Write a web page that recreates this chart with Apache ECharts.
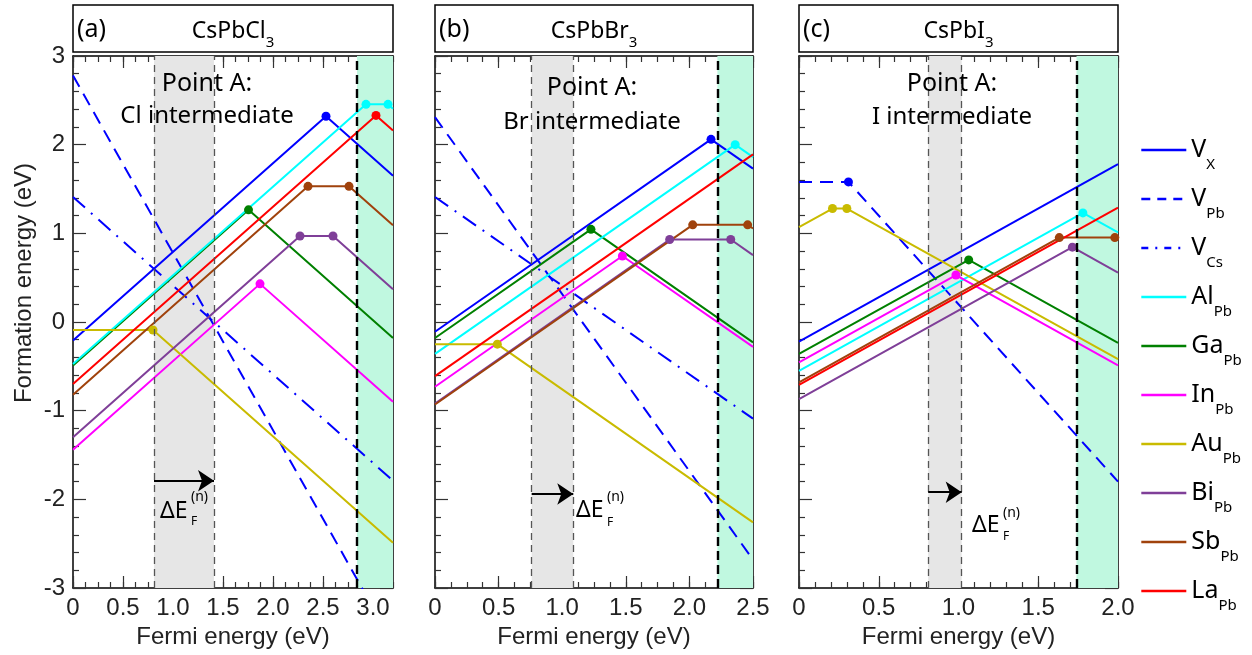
<!DOCTYPE html>
<html><head><meta charset="utf-8">
<script src="https://cdn.jsdelivr.net/npm/echarts@6/dist/echarts.min.js"></script>
<style>html,body{margin:0;padding:0;background:#fff}#c{width:1252px;height:655px}</style>
</head><body><div id="c"></div><script>
// ---------- data ----------
const panelLabels = ['(a)', '(b)', '(c)'];
const panelFormulas = ['CsPbCl', 'CsPbBr', 'CsPbI'];
const halideNames = ['Cl', 'Br', 'I'];
const xMaxes = [3.2, 2.5, 2.0];
const xTicksA = [0, 0.5, 1.0, 1.5, 2.0, 2.5, 3.0];
const xTicksB = [0, 0.5, 1.0, 1.5, 2.0, 2.5];
const xTicksC = [0, 0.5, 1.0, 1.5, 2.0];
const yTicks = [-3, -2, -1, 0, 1, 2, 3];
const grayBands = [[0.81, 1.41], [0.76, 1.087], [0.81, 1.02]];
const greenBandStarts = [2.84, 2.22, 1.74];
const arrowYs = [-1.79, -1.94, -1.92];
const legendNames = ['V_X', 'V_Pb', 'V_Cs', 'Al_Pb', 'Ga_Pb', 'In_Pb', 'Au_Pb', 'Bi_Pb', 'Sb_Pb', 'La_Pb'];

// (a) CsPbCl3
const a_VX = [[0, -0.21], [2.53, 2.32], [3.2, 1.65]];
const a_VPb = [[0, 2.78], [2.9, -3.02]];
const a_VCs = [[0, 1.41], [3.2, -1.79]];
const a_Al = [[0, -0.475], [2.93, 2.455], [3.15, 2.455], [3.2, 2.405]];
const a_Ga = [[0, -0.49], [1.755, 1.265], [3.2, -0.18]];
const a_In = [[0, -1.44], [1.87, 0.43], [3.2, -0.90]];
const a_Au = [[0, -0.09], [0.80, -0.09], [3.2, -2.49]];
const a_Bi = [[0, -1.30], [2.27, 0.97], [2.60, 0.97], [3.2, 0.37]];
const a_Sb = [[0, -0.82], [2.35, 1.53], [2.76, 1.53], [3.2, 1.09]];
const a_La = [[0, -0.70], [3.03, 2.33], [3.2, 2.16]];

// (b) CsPbBr3
const b_VX = [[0, -0.11], [2.17, 2.06], [2.5, 1.73]];
const b_VPb = [[0, 2.31], [2.5, -2.68]];
const b_VCs = [[0, 1.41], [2.5, -1.09]];
const b_Al = [[0, -0.36], [2.36, 2.00], [2.5, 1.86]];
const b_Ga = [[0, -0.18], [1.226, 1.045], [2.5, -0.23]];
const b_In = [[0, -0.73], [1.473, 0.744], [2.5, -0.28]];
const b_Au = [[0, -0.25], [0.49, -0.25], [2.5, -2.26]];
const b_Bi = [[0, -0.92], [1.845, 0.93], [2.325, 0.93], [2.5, 0.755]];
const b_Sb = [[0, -0.93], [2.026, 1.096], [2.458, 1.096], [2.5, 1.054]];
const b_La = [[0, -0.61], [2.5, 1.89]];

// (c) CsPbI3
const c_VX = [[0, -0.22], [2.0, 1.78]];
const c_VPb = [[0, 1.58], [0.31, 1.58], [2.0, -1.80]];
const c_Al = [[0, -0.55], [1.78, 1.23], [2.0, 1.01]];
const c_Ga = [[0, -0.36], [1.064, 0.70], [2.0, -0.236]];
const c_In = [[0, -0.455], [0.984, 0.53], [2.0, -0.49]];
const c_Au = [[0, 1.07], [0.21, 1.28], [0.30, 1.28], [2.0, -0.42]];
const c_Bi = [[0, -0.87], [1.714, 0.844], [2.0, 0.558]];
const c_Sb = [[0, -0.68], [1.632, 0.952], [1.98, 0.952], [2.0, 0.932]];
const c_La = [[0, -0.71], [2.0, 1.29]];

// ---------- styles / layout ----------
const panelSeries = [
  {V_X: a_VX, V_Pb: a_VPb, V_Cs: a_VCs, Al_Pb: a_Al, Ga_Pb: a_Ga, In_Pb: a_In, Au_Pb: a_Au, Bi_Pb: a_Bi, Sb_Pb: a_Sb, La_Pb: a_La},
  {V_X: b_VX, V_Pb: b_VPb, V_Cs: b_VCs, Al_Pb: b_Al, Ga_Pb: b_Ga, In_Pb: b_In, Au_Pb: b_Au, Bi_Pb: b_Bi, Sb_Pb: b_Sb, La_Pb: b_La},
  {V_X: c_VX, V_Pb: c_VPb, Al_Pb: c_Al, Ga_Pb: c_Ga, In_Pb: c_In, Au_Pb: c_Au, Bi_Pb: c_Bi, Sb_Pb: c_Sb, La_Pb: c_La}
];
const panelXTicks = [xTicksA, xTicksB, xTicksC];
const minorSteps = [0.125, 0.125, 0.1];
const gridBoxes = [{left: 73, width: 320}, {left: 435, width: 318}, {left: 799, width: 319}];
const GTOP = 56, GH = 532;
const styles = {
  V_X: {color: '#0000ff', type: 'solid', legendType: 'solid'},
  V_Pb: {color: '#0000ff', type: [13, 8], legendType: [9, 7]},
  V_Cs: {color: '#0000ff', type: [16, 8, 2, 8], legendType: [7, 7, 2, 7]},
  Al_Pb: {color: '#00ffff', type: 'solid', legendType: 'solid'},
  Ga_Pb: {color: '#008000', type: 'solid', legendType: 'solid'},
  In_Pb: {color: '#ff00ff', type: 'solid', legendType: 'solid'},
  Au_Pb: {color: '#c9bb00', type: 'solid', legendType: 'solid'},
  Bi_Pb: {color: '#7f3f98', type: 'solid', legendType: 'solid'},
  Sb_Pb: {color: '#a0420c', type: 'solid', legendType: 'solid'},
  La_Pb: {color: '#ff0000', type: 'solid', legendType: 'solid'}
};
const drawOrder = ['V_X', 'V_Pb', 'V_Cs', 'Ga_Pb', 'Al_Pb', 'In_Pb', 'Au_Pb', 'Bi_Pb', 'Sb_Pb', 'La_Pb'];
const TICKFONT = 'Liberation Sans';
const TXTFONT = 'Noto Sans';

const option = {
  animation: false,
  backgroundColor: '#fff',
  grid: [], xAxis: [], yAxis: [], series: [], graphic: [],
  legend: {
    orient: 'vertical', left: 1135, top: 131, itemWidth: 45, itemHeight: 14, itemGap: 13,
    selectedMode: false,
    data: legendNames.map(n => ({name: n,
      lineStyle: {color: styles[n].color, width: 2.6, type: styles[n].legendType},
      itemStyle: {opacity: 0, color: 'transparent', borderWidth: 0}})),
    itemStyle: {opacity: 0, color: 'transparent', borderWidth: 0},
    formatter: n => { const p = n.split('_'); return '{b|' + p[0] + '}{s|' + p[1] + '}'; },
    textStyle: {color: '#000', rich: {
      b: {fontSize: 25, lineHeight: 28, fontFamily: TXTFONT, color: '#000'},
      s: {fontSize: 15, lineHeight: 28, fontFamily: TXTFONT, color: '#000', verticalAlign: 'top', padding: [21, 0, 0, 0]}
    }}
  }
};

const lineBlack = {color: '#000', width: 1.5};
const tickStyle = {color: '#333', width: 1.2};

panelSeries.forEach((ps, i) => {
  const G = gridBoxes[i];
  option.grid.push({left: G.left, top: GTOP, width: G.width, height: GH, show: false, outerBoundsMode: 'none', containLabel: false});
  const xBase = {gridIndex: i, type: 'value', min: 0, max: xMaxes[i], splitLine: {show: false}};
  const xi = option.xAxis.length;
  option.xAxis.push(Object.assign({}, xBase, {
    position: 'bottom',
    axisLine: {onZero: false, lineStyle: lineBlack},
    axisTick: {inside: true, length: 12, customValues: panelXTicks[i], lineStyle: tickStyle},
    axisLabel: {customValues: panelXTicks[i], formatter: v => v === 0 ? '0' : v.toFixed(1), fontSize: 24, color: '#222', fontFamily: TICKFONT, margin: 8},
    name: 'Fermi energy (eV)', nameLocation: 'middle', nameGap: 36,
    nameTextStyle: {fontSize: 24, color: '#222', fontFamily: TICKFONT}
  }));
  option.xAxis.push(Object.assign({}, xBase, {
    position: 'bottom', interval: minorSteps[i],
    axisLine: {show: false, onZero: false},
    axisTick: {inside: true, length: 6, lineStyle: tickStyle}, axisLabel: {show: false}
  }));
  option.xAxis.push(Object.assign({}, xBase, {
    position: 'top',
    axisLine: {onZero: false, lineStyle: lineBlack},
    axisTick: {inside: true, length: 12, customValues: panelXTicks[i], lineStyle: tickStyle}, axisLabel: {show: false}
  }));
  option.xAxis.push(Object.assign({}, xBase, {
    position: 'top', interval: minorSteps[i],
    axisLine: {show: false, onZero: false},
    axisTick: {inside: true, length: 6, lineStyle: tickStyle}, axisLabel: {show: false}
  }));
  const yi = option.yAxis.length;
  const yBase = {gridIndex: i, type: 'value', min: -3, max: 3, interval: 1, splitLine: {show: false},
    minorTick: {show: true, splitNumber: 5, length: 6, lineStyle: tickStyle}};
  option.yAxis.push(Object.assign({}, yBase, {
    position: 'left',
    axisLine: {onZero: false, lineStyle: lineBlack},
    axisTick: {inside: true, length: 13, lineStyle: tickStyle},
    axisLabel: i === 0 ? {customValues: yTicks, fontSize: 24, color: '#222', fontFamily: TICKFONT, margin: 8} : {show: false}
  }));
  option.yAxis.push(Object.assign({}, yBase, {
    position: 'right',
    axisLine: {onZero: false, lineStyle: lineBlack},
    axisTick: {inside: true, length: 13, lineStyle: tickStyle}, axisLabel: {show: false}
  }));

  // shaded bands
  option.series.push({type: 'line', xAxisIndex: xi, yAxisIndex: yi, data: [], silent: true, z: 1,
    markArea: {silent: true, data: [
      [{xAxis: grayBands[i][0], itemStyle: {color: '#e6e6e6'}}, {xAxis: grayBands[i][1]}],
      [{xAxis: greenBandStarts[i], itemStyle: {color: '#c0f8e0'}}, {xAxis: xMaxes[i]}]
    ]}});
  // band edges + arrow
  option.series.push({type: 'line', xAxisIndex: xi, yAxisIndex: yi, data: [], silent: true, z: 2,
    markLine: {silent: true, symbol: 'none', label: {show: false}, animation: false, data: [
      {xAxis: grayBands[i][0], lineStyle: {color: '#555', type: [7, 5], width: 1.3}},
      {xAxis: grayBands[i][1], lineStyle: {color: '#555', type: [7, 5], width: 1.3}},
      {xAxis: greenBandStarts[i], lineStyle: {color: '#000', type: [9, 5], width: 2.4}},
      [{coord: [grayBands[i][0], arrowYs[i]], symbol: 'none', lineStyle: {color: '#000', type: 'solid', width: 2}},
       {coord: [grayBands[i][1], arrowYs[i]], symbol: 'arrow', symbolSize: 16}]
    ]}});

  drawOrder.forEach(name => {
    const pts = ps[name];
    if (!pts) return;
    const st = styles[name];
    option.series.push({
      name, type: 'line', xAxisIndex: xi, yAxisIndex: yi, z: 3, silent: true, clip: true,
      symbol: 'none', showAllSymbol: true,
      lineStyle: {color: st.color, width: 2, type: st.type},
      itemStyle: {color: st.color},
      data: pts.map((pt, k) => (k > 0 && k < pts.length - 1) ? {value: pt, symbol: 'circle', symbolSize: 9} : {value: pt})
    });
  });

  // title boxes
  option.graphic.push({type: 'rect', shape: {x: G.left, y: 5, width: G.width, height: 47},
    style: {fill: '#fff', stroke: '#000', lineWidth: 1.5}, z: 10});
  option.graphic.push({type: 'text', x: G.left + 4, y: 30, z: 11,
    style: {text: panelLabels[i], fontSize: 25, fontFamily: TXTFONT, fill: '#000', align: 'left', verticalAlign: 'middle'}});
  option.graphic.push({type: 'text', x: G.left + G.width / 2, y: 31, z: 11,
    style: {text: '{m|' + panelFormulas[i] + '}{s|3}', fill: '#000', align: 'center', verticalAlign: 'middle',
      rich: {m: {fontSize: 23, lineHeight: 26, fontFamily: TXTFONT, fill: '#000'},
             s: {fontSize: 15, lineHeight: 26, fontFamily: TXTFONT, fill: '#000', verticalAlign: 'top', padding: [17, 0, 0, 0]}}}});
});

// Point A annotations
const pointAPos = [[207, 84, 116], [592, 88, 122], [952, 84, 117]];
pointAPos.forEach((p, i) => {
  option.graphic.push({type: 'text', x: p[0], y: p[1], z: 12,
    style: {text: 'Point A:', fontSize: 25, fontFamily: TXTFONT, fill: '#000', align: 'center', verticalAlign: 'middle'}});
  option.graphic.push({type: 'text', x: p[0], y: p[2], z: 12,
    style: {text: halideNames[i] + ' intermediate', fontSize: 24, fontFamily: TXTFONT, fill: '#000', align: 'center', verticalAlign: 'middle'}});
});
// ΔE_F^(n) labels
const dePos = [[160, 511, 522, 497], [576, 510, 523, 497], [972, 525, 537, 513]];
dePos.forEach(p => {
  option.graphic.push({type: 'text', x: p[0], y: p[1], z: 12,
    style: {text: 'ΔE', fontSize: 23, fontFamily: TXTFONT, fill: '#000', align: 'left', verticalAlign: 'middle'}});
  option.graphic.push({type: 'text', x: p[0] + 31, y: p[2], z: 12,
    style: {text: 'F', fontSize: 12, fontFamily: TXTFONT, fill: '#000', align: 'left', verticalAlign: 'middle'}});
  option.graphic.push({type: 'text', x: p[0] + 31, y: p[3], z: 12,
    style: {text: '(n)', fontSize: 14, fontFamily: TXTFONT, fill: '#000', align: 'left', verticalAlign: 'middle'}});
});
// y axis title
option.graphic.push({type: 'text', x: 24, y: 283, rotation: Math.PI / 2, z: 12,
  style: {text: 'Formation energy (eV)', fontSize: 24, fontFamily: TICKFONT, fill: '#222', align: 'center', verticalAlign: 'middle'}});

const chart = echarts.init(document.getElementById('c'), null, {renderer: 'canvas'});
chart.setOption(option);
</script></body></html>
